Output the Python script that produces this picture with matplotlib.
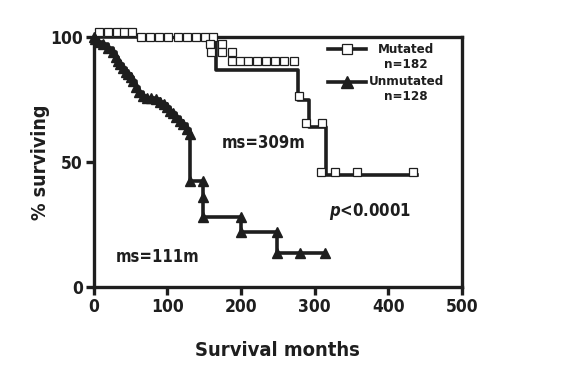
import matplotlib.pyplot as plt
from matplotlib.lines import Line2D

# Mutated: step curve (drop times / survival after drop)
mut_t = [0, 166, 277, 292, 315, 439]
mut_s = [100, 86.8, 74.8, 64, 44.8, 44.8]
# censored marks (squares)
mut_cens_t = [7, 19, 31, 41, 52,
              64, 76, 88, 101, 114, 126, 139, 151, 162,
              158, 174,
              159, 174, 187,
              187, 198, 209, 221, 234, 246, 258, 272,
              278, 288, 310,
              309, 327, 357, 434]
mut_cens_s = ([102] * 5 + [100] * 9 + [97.3] * 2 + [94] * 3 + [90.4] * 8
              + [76.4] + [65.6] * 2 + [46] * 4)

# Unmutated: step points, a triangle at each
unm_t = [0, 1, 6, 12, 19, 26, 30, 33, 36, 39, 43, 46, 50, 53, 57, 62, 67, 72, 78,
         84, 90, 95, 100, 104, 108, 112, 117, 121, 126, 131, 131, 148, 148, 148,
         200, 200, 249, 249, 280, 314]
unm_s = [100, 99, 98, 97, 95.5, 94, 92, 90.5, 89, 87.5, 86, 85, 84, 82.5, 80, 78,
         76.5, 75.5, 75.5, 75, 74, 73, 72, 70.5, 69.5, 68, 66.5, 65, 63, 61, 42.5,
         42.5, 36, 28, 28, 22, 22, 13.5, 13.5, 13.5]

ink = '#1e1e1e'
plt.rcParams['font.family'] = ['DejaVu Sans']
plt.rcParams['font.stretch'] = 'condensed'
plt.rcParams['font.weight'] = 'bold'
plt.rcParams['axes.labelweight'] = 'bold'

fig = plt.figure(figsize=(5.62, 3.76), dpi=100)
ax = fig.add_axes([0.167, 0.237, 0.655, 0.665])

ax.step(mut_t, mut_s, where='post', color=ink, lw=2.6, zorder=2)
ax.plot(mut_cens_t, mut_cens_s, 's', ms=6.2, mfc='white', mec=ink, mew=0.9,
        clip_on=False, zorder=3)

ax.step(unm_t, unm_s, where='post', color=ink, lw=2.6, zorder=2)
ax.plot(unm_t, unm_s, '^', ms=7, color=ink, clip_on=False, zorder=3)

ax.set_xlim(0, 500)
ax.set_ylim(0, 100)
ax.set_xticks([0, 100, 200, 300, 400, 500])
ax.set_yticks([0, 50, 100])
for sp in ax.spines.values():
    sp.set_linewidth(2.4)
    sp.set_color(ink)
ax.spines['top'].set_bounds(60, 500)
ax.tick_params(axis='both', direction='out', length=6, width=2.4, color=ink,
               labelsize=12.5, labelcolor=ink, pad=2)
ax.set_xlabel('Survival months', fontsize=14.5, color=ink, labelpad=18)
ax.set_ylabel('% surviving', fontsize=14, color=ink, labelpad=0)

ax.text(230, 57.5, 'ms=309m', fontsize=12, color=ink, ha='center', va='center')
ax.text(87, 12, 'ms=111m', fontsize=12, color=ink, ha='center', va='center')
ax.text(375, 30, r'$\mathbfit{p}$<0.0001', fontsize=12, color=ink,
        ha='center', va='center')

# legend drawn by hand
tr = ax.transAxes
ax.add_line(Line2D([0.636, 0.739], [0.95, 0.95], color=ink, lw=2.6, transform=tr))
ax.add_line(Line2D([0.6875], [0.95], marker='s', ms=7, mfc='white', mec=ink,
                   mew=0.9, transform=tr))
ax.add_line(Line2D([0.636, 0.739], [0.82, 0.82], color=ink, lw=2.6, transform=tr))
ax.add_line(Line2D([0.6875], [0.82], marker='^', ms=9, color=ink, transform=tr))
for txt, yy in [('Mutated', 0.95), ('n=182', 0.89), ('Unmutated', 0.82),
                ('n=128', 0.76)]:
    ax.text(0.848, yy, txt, transform=tr, fontsize=9.5, color=ink,
            ha='center', va='center')

fig.savefig('out.png', dpi=100)
